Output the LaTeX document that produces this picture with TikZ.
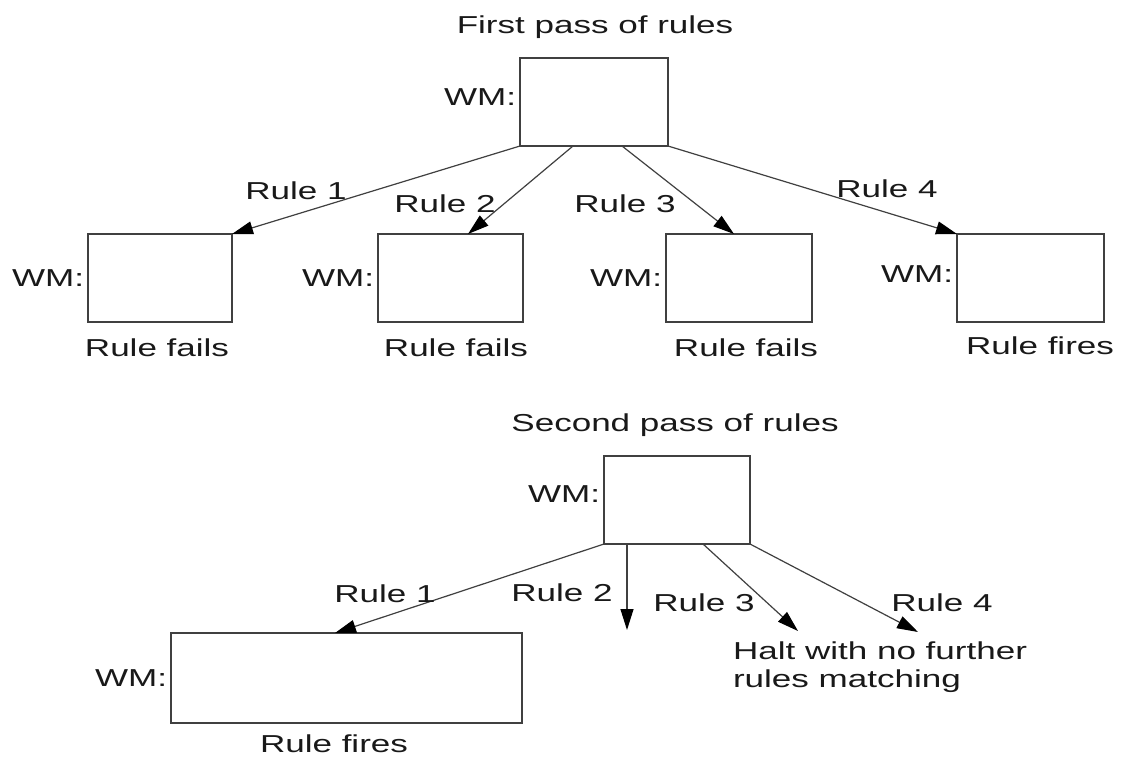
\documentclass[tikz,border=0pt]{standalone}
\usepackage{fontspec}
\setmainfont{Liberation Sans}[FakeStretch=1.43]
\usetikzlibrary{arrows.meta,calc}
\begin{document}
\begin{tikzpicture}[x=1pt,y=-1pt,
  wmbox/.style={draw=black!75, line width=1.3pt, inner sep=0pt, outer sep=0pt, minimum height=88pt},
  lbl/.style={inner sep=0pt, outer sep=0pt, anchor=base, text=black!90},
  wm/.style={inner sep=0pt, outer sep=0pt, anchor=east, text=black!90, xshift=-4pt},
  arr/.style={draw=black!75, line width=1.2pt, -{Triangle[length=21pt,width=13pt,color=black]}},
  font=\fontsize{24.5}{28}\selectfont]
\useasboundingbox (0,0) rectangle (1122,756);
\fill[white] (0,0) rectangle (1122,756);

% ---------- First pass ----------
\node[lbl] (t1) at (595,33) {First pass of rules};
\node[wmbox, minimum width=148pt] (b0) at (594,102) {};
\node[wm, yshift=5pt] (w0) at (b0.west) {WM:};

\node[wmbox, minimum width=144pt] (b1) at (160,278) {};
\node[wmbox, minimum width=145pt] (b2) at (450.5,278) {};
\node[wmbox, minimum width=146pt] (b3) at (739,278) {};
\node[wmbox, minimum width=147pt] (b4) at (1030.5,278) {};
\node[wm] (w1) at (b1.west) {WM:};
\node[wm] (w2) at (b2.west) {WM:};
\node[wm] (w3) at (b3.west) {WM:};
\node[wm, yshift=4pt] (w4) at (b4.west) {WM:};

\draw[arr] (b0.south west) -- (b1.north east);
\draw[arr] ($(b0.south west)+(53,0)$) -- ($(b2.north west)+(90,0)$);
\draw[arr] ($(b0.south west)+(102,0)$) -- ($(b3.north west)+(68,0)$);
\draw[arr] (b0.south east) -- (b4.north west);

\node[lbl] (l1) at (296,199) {Rule 1};
\node[lbl] (l2) at (445,212) {Rule 2};
\node[lbl] (l3) at (625,212) {Rule 3};
\node[lbl] (l4) at (887,197) {Rule 4};

\node[lbl] (f1) at (157,356) {Rule fails};
\node[lbl] (f2) at (456,356) {Rule fails};
\node[lbl] (f3) at (746,356) {Rule fails};
\node[lbl] (f4) at (1040,354) {Rule fires};

% ---------- Second pass ----------
\node[lbl] (t2) at (675,431) {Second pass of rules};
\node[wmbox, minimum width=146pt] (b5) at (677,500) {};
\node[wm, yshift=6pt] (w5) at (b5.west) {WM:};

\node[wmbox, minimum width=351pt, minimum height=90pt] (b6) at (346.5,678) {};
\node[wm] (w6) at (b6.west) {WM:};

\coordinate (e2) at (627,630);
\coordinate (e3) at (798,631);
\coordinate (e4) at (918,632);

\draw[arr] (b5.south west) -- ($(b6.north west)+(164,0)$);
\draw[arr] ($(b5.south west)+(23,0)$) -- (e2);
\draw[arr] ($(b5.south west)+(99,0)$) -- (e3);
\draw[arr] (b5.south east) -- (e4);

\node[lbl] (m1) at (385,602) {Rule 1};
\node[lbl] (m2) at (562,601) {Rule 2};
\node[lbl] (m3) at (704,611) {Rule 3};
\node[lbl] (m4) at (942,611) {Rule 4};

\node[inner sep=0pt, outer sep=0pt, anchor=west, align=left, text=black!90] (halt) at (733,667) {Halt with no further\\rules matching};

\node[lbl] (f6) at (334,752) {Rule fires};
\end{tikzpicture}
\end{document}
